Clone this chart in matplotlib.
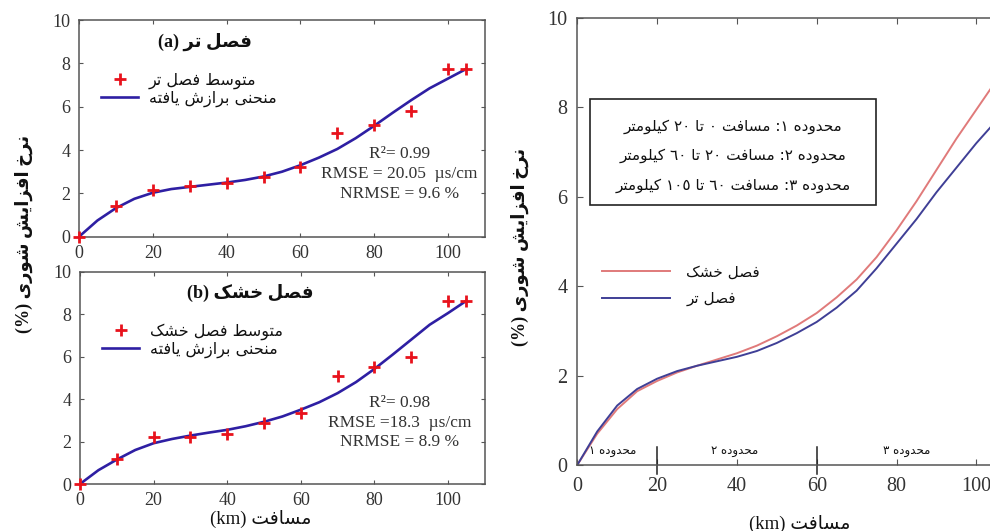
import matplotlib
matplotlib.use('Agg')
import matplotlib.pyplot as plt
from matplotlib.patches import Rectangle

# ---------------- data ----------------
dist_pts = [0, 10, 20, 30, 40, 50, 60, 70, 80, 90, 100, 105]
wet_mean = [0, 1.42, 2.15, 2.34, 2.49, 2.74, 3.23, 4.80, 5.14, 5.80, 7.74, 7.74]
dry_mean = [0, 1.18, 2.23, 2.23, 2.35, 2.86, 3.33, 5.10, 5.49, 5.97, 8.63, 8.63]

dist_fit = [0, 5, 10, 15, 20, 25, 30, 35, 40, 45, 50, 55, 60, 65, 70, 75, 80, 85, 90, 95, 100, 105]
wet_fit = [0, 0.75, 1.32, 1.75, 2.03, 2.20, 2.30, 2.40, 2.50, 2.62, 2.78, 3.00, 3.30, 3.65, 4.05,
           4.55, 5.12, 5.72, 6.30, 6.85, 7.30, 7.75]
dry_fit = [0, 0.65, 1.15, 1.60, 1.92, 2.12, 2.28, 2.42, 2.55, 2.72, 2.93, 3.18, 3.50, 3.85, 4.28,
           4.80, 5.42, 6.10, 6.80, 7.50, 8.05, 8.63]

wet_cmp = [0, 0.75, 1.33, 1.70, 1.93, 2.10, 2.22, 2.32, 2.42, 2.55, 2.73, 2.95, 3.20, 3.52, 3.90,
           4.40, 4.95, 5.50, 6.10, 6.65, 7.20, 7.70]
dry_cmp = [0, 0.70, 1.25, 1.65, 1.88, 2.07, 2.22, 2.36, 2.50, 2.67, 2.88, 3.12, 3.40, 3.75, 4.15,
           4.65, 5.25, 5.90, 6.60, 7.30, 7.95, 8.60]

x_ticks = [0, 20, 40, 60, 80, 100]
y_ticks = [0, 2, 4, 6, 8, 10]
zone_bounds = [20, 60]
zone_label_x = [9, 39.5, 82.6]

stats_a = ["R\u00b2= 0.99", "RMSE = 20.05  \u00b5s/cm", "NRMSE = 9.6 %"]
stats_b = ["R\u00b2= 0.98", "RMSE =18.3  \u00b5s/cm", "NRMSE = 8.9 %"]

title_a = "فصل تر (a)"
title_b = "فصل خشک (b)"
lbl_mean_wet = "متوسط فصل تر"
lbl_mean_dry = "متوسط فصل خشک"
lbl_fit = "منحنی برازش یافته"
lbl_y = "نرخ افزایش شوری (%)"
lbl_x = "مسافت (km)"
lbl_dry = "فصل خشک"
lbl_wet = "فصل تر"
zone_desc = ["محدوده ١: مسافت ٠ تا ٢٠ کیلومتر",
             "محدوده ٢: مسافت ٢٠ تا ٦٠ کیلومتر",
             "محدوده ٣: مسافت ٦٠ تا ١٠٥ کیلومتر"]
zone_names = ["محدوده ١", "محدوده ٢", "محدوده ٣"]

# ---------------- minimal Arabic/Persian shaping ----------------
_dual = {'ب': 0xFE8F, 'ت': 0xFE95, 'ح': 0xFEA1, 'خ': 0xFEA5, 'س': 0xFEB1, 'ش': 0xFEB5,
         'ص': 0xFEB9, 'ط': 0xFEC1, 'ف': 0xFED1, 'ل': 0xFEDD, 'م': 0xFEE1, 'ن': 0xFEE5,
         'ه': 0xFEE9, 'ک': 0xFB8E, 'ی': 0xFBFC}
_right = {'ا': 0xFE8D, 'د': 0xFEA9, 'ر': 0xFEAD, 'ز': 0xFEAF, 'و': 0xFEED}


def _shape(s):
    out = []
    for i, c in enumerate(s):
        if c not in _dual and c not in _right:
            out.append(c)
            continue
        prev = s[i - 1] if i > 0 else ''
        nxt = s[i + 1] if i + 1 < len(s) else ''
        pj = prev in _dual
        nj = (c in _dual) and (nxt in _dual or nxt in _right)
        if c in _dual:
            base = _dual[c]
            off = 3 if (pj and nj) else 1 if pj else 2 if nj else 0
        else:
            base = _right[c]
            off = 1 if pj else 0
        out.append(chr(base + off))
    return ''.join(out)


_LTR = set('0123456789٠١٢٣٤٥٦٧٨٩abcdefghijklmnopqrstuvwxyzABCDEFGHIJKLMNOPQRSTUVWXYZ.')
_MIRROR = {'(': ')', ')': '('}


def fa(s):
    s = _shape(s)
    runs = []
    for ch in s:
        k = ch in _LTR
        if runs and runs[-1][0] == k:
            runs[-1][1].append(ch)
        else:
            runs.append([k, [ch]])
    out = []
    for k, chars in reversed(runs):
        if k:
            out.append(''.join(chars))
        else:
            out.append(''.join(_MIRROR.get(c, c) for c in reversed(chars)))
    return ''.join(out)


# ---------------- styling ----------------
plt.rcParams['font.family'] = ['Liberation Serif', 'DejaVu Sans']
FA = ['DejaVu Sans']
MIX = ['Liberation Serif', 'DejaVu Sans']
TXT = '#333333'
SPINE = '#555555'
PT_RED = '#e8121c'
FIT_BLUE = '#2e1fa3'
CMP_RED = '#e07a7a'
CMP_BLUE = '#3f3f96'

fig = plt.figure(figsize=(9.9, 5.31), dpi=100)


def style_axes(ax, size=13):
    for sp in ax.spines.values():
        sp.set_color(SPINE)
        sp.set_linewidth(1.1)
    ax.set_xlim(0, 110)
    ax.set_ylim(0, 10)
    ax.set_xticks(x_ticks)
    ax.set_yticks(y_ticks)
    ax.tick_params(direction='in', length=3, width=0.8, colors=SPINE,
                   labelcolor=TXT, labelsize=size, top=True, right=True)


def left_panel(rect, mean, fit, title, lbl_mean, stats, title_x):
    ax = fig.add_axes(rect)
    style_axes(ax)
    ax.tick_params(pad=6)
    h1, = ax.plot(dist_pts, mean, linestyle='none', marker='+', color=PT_RED,
                  markersize=9, markeredgewidth=2, zorder=3, clip_on=False)
    h2, = ax.plot(dist_fit, fit, color=FIT_BLUE, lw=1.9, zorder=2)
    ax.text(title_x, 0.9, fa(title), transform=ax.transAxes, ha='center', va='center',
            family=MIX, fontsize=13, fontweight='bold', color='#111111')
    leg = ax.legend([h1, h2], [fa(lbl_mean), fa(lbl_fit)], loc='upper left',
                    bbox_to_anchor=(0.035, 0.795), frameon=False, prop={'family': FA, 'size': 11.5},
                    handlelength=2.3, handletextpad=0.7, labelspacing=0.12, borderpad=0)
    for t in leg.get_texts():
        t.set_color('#111111')
    for i, s in enumerate(stats):
        ax.text(0.79, 0.38 - i * 0.092, s, transform=ax.transAxes, ha='center', va='center',
                fontsize=12.5, color=TXT)
    return ax


left_panel([0.0798, 0.5542, 0.410, 0.408], wet_mean, wet_fit, title_a, lbl_mean_wet, stats_a, 0.31)
left_panel([0.0808, 0.0885, 0.409, 0.400], dry_mean, dry_fit, title_b, lbl_mean_dry, stats_b, 0.42)

fig.text(0.024, 0.56, fa(lbl_y), rotation=90, ha='center', va='center', family=MIX,
         fontsize=13, fontweight='bold', color='#111111')
fig.text(0.263, 0.022, fa(lbl_x), ha='center', va='center', family=MIX, fontsize=13.5,
         color='#111111')

# ---------------- right panel ----------------
axr = fig.add_axes([0.5831, 0.1243, 0.4434, 0.8418])
style_axes(axr, size=14.5)
axr.tick_params(pad=9, length=4)
axr.tick_params(axis='y', pad=7)
axr.spines['right'].set_visible(False)
r1, = axr.plot(dist_fit, dry_cmp, color=CMP_RED, lw=1.4)
r2, = axr.plot(dist_fit, wet_cmp, color=CMP_BLUE, lw=1.4)
legr = axr.legend([r1, r2], [fa(lbl_dry), fa(lbl_wet)], loc='upper left',
                  bbox_to_anchor=(0.04, 0.465), frameon=False, prop={'family': FA, 'size': 11},
                  handlelength=4.4, handletextpad=1.1, labelspacing=0.75, borderpad=0)
for t in legr.get_texts():
    t.set_color('#111111')

axr.add_patch(Rectangle((0.029, 0.582), 0.651, 0.237, transform=axr.transAxes,
                        fill=False, edgecolor='#222222', lw=1.2))
for i, s in enumerate(zone_desc):
    axr.text(0.355, 0.758 - i * 0.066, fa(s), transform=axr.transAxes, ha='center',
             va='center', family=FA, fontsize=11, color='#111111')

for xb in zone_bounds:
    axr.plot([xb, xb], [-0.2, 0.4], color='#222222', lw=1.1, clip_on=False)
for xl, s in zip(zone_label_x, zone_names):
    axr.text(xl, 0.33, fa(s), ha='center', va='center', family=FA, fontsize=8.5, color='#111111')

fig.text(0.525, 0.535, fa(lbl_y), rotation=90, ha='center', va='center', family=MIX,
         fontsize=13, fontweight='bold', color='#111111')
fig.text(0.808, 0.014, fa(lbl_x), ha='center', va='center', family=MIX, fontsize=13.5,
         color='#111111')

fig.savefig('out.png', dpi=100)
